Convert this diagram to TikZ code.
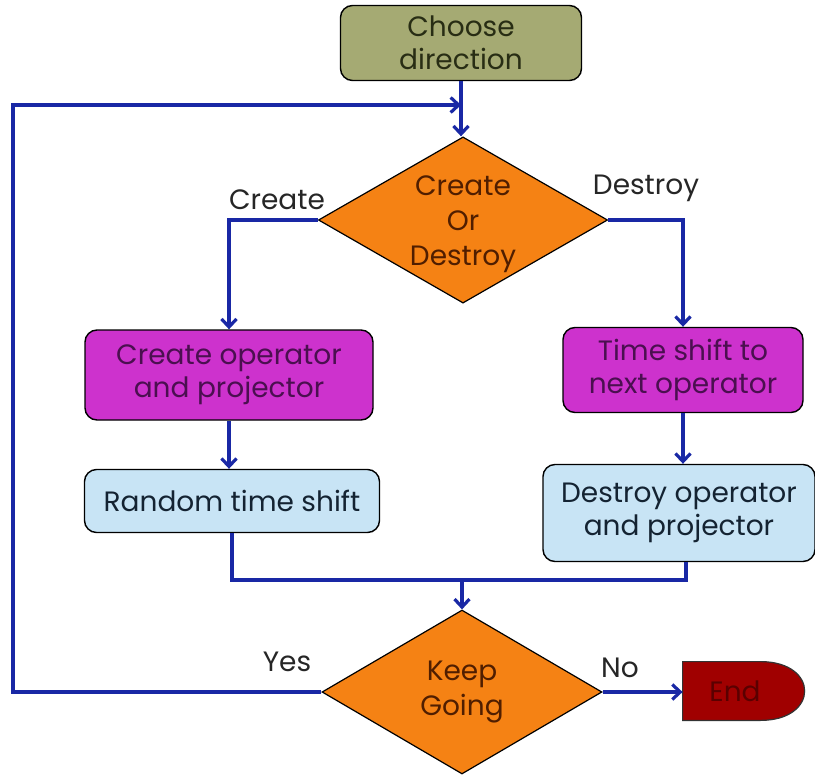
\documentclass[tikz,border=0pt]{standalone}
\usepackage{fontspec}
\setmainfont{Poppins}
\usetikzlibrary{positioning, backgrounds, shapes, arrows.meta}
\definecolor{olivefill}{RGB}{165,170,115}
\definecolor{olivetext}{RGB}{40,45,20}
\definecolor{orangefill}{RGB}{245,130,20}
\definecolor{orangetext}{RGB}{80,30,0}
\definecolor{magentafill}{RGB}{205,50,205}
\definecolor{magentatext}{RGB}{75,15,80}
\definecolor{bluefill}{RGB}{200,228,245}
\definecolor{bluetext}{RGB}{20,35,50}
\definecolor{endfill}{RGB}{160,0,0}
\definecolor{endtext}{RGB}{90,0,0}
\definecolor{flowblue}{RGB}{25,40,165}
\tikzset{%
  box/.style      = {draw, line width = 0.7pt, rounded corners = 6pt, rectangle, inner sep = 0pt,
    align = center, font = \fontsize{14}{16.5}\selectfont},
  decision/.style = {draw, line width = 0.6pt, diamond, inner sep = 0pt, aspect = 1.74,
    align = center, fill = orangefill, text = orangetext,
    font = \fontsize{14}{17.5}\selectfont}, % Question
  branch/.style   = {font = \fontsize{14}{16.5}\selectfont, text = black!85},
  flow/.style     = {draw = flowblue, line width = 1.6pt, -{Straight Barb[length=4pt, width=7.5pt]}},
  link/.style     = {draw = flowblue, line width = 1.6pt}
}
\newcommand{\toppad}{\rule{0pt}{14pt}}

\begin{document}
\begin{tikzpicture}[x = 0.5pt, y = -0.5pt]
\useasboundingbox (0,0) rectangle (815,777);
% blocks
\draw
	(461,43) node [box, fill = olivefill, text = olivetext, minimum width = 120.5pt, minimum height = 37.5pt] (choose) {Choose\\direction}
	(463,220) node [decision, minimum width = 141pt, minimum height = 81pt] (cod) {\toppad Create\\Or\\Destroy}
	(229,375) node [box, fill = magentafill, text = magentatext, minimum width = 144pt, minimum height = 45pt] (cop) {Create operator\\and projector}
	(683,370) node [box, fill = magentafill, text = magentatext, minimum width = 120pt, minimum height = 42.5pt] (tsn) {Time shift to\\next operator}
	(232,501) node [box, fill = bluefill, text = bluetext, minimum width = 147.5pt, minimum height = 31.5pt] (rts) {Random time shift}
	(679,513) node [box, fill = bluefill, text = bluetext, minimum width = 136pt, minimum height = 48.5pt] (dop) {Destroy operator\\and projector}
	(462,692) node [decision, minimum width = 140pt, minimum height = 82pt] (kg) {Keep\\Going}
	(735,691) node [font = \fontsize{14}{16.5}\selectfont, text = endtext, minimum width = 52pt, minimum height = 29pt, inner sep = 0pt] (end) {End};
% end terminal
\begin{scope}[on background layer]
\filldraw[fill = endfill, draw = black!80, line width = 0.6pt] (end.north west) -- ([xshift = -13.5pt]end.north east)
	.. controls ([xshift = 16pt]end.north east) and ([xshift = 16pt]end.south east) .. ([xshift = -13.5pt]end.south east)
	-- (end.south west) -- cycle;
\end{scope}
% junctions
\coordinate (loop) at (461,105);
\coordinate (ret) at (13,105);
\coordinate (merge) at (462,580);
% flow lines
\draw[flow] (choose) -- (choose |- cod.north);
\draw[flow] (cod.west) -| (cop.north);
\draw[flow] (cod.east) -| (tsn.north);
\draw[flow] (cop) -- (cop |- rts.north);
\draw[flow] (tsn) -- (tsn |- dop.north);
\draw[link] (rts.south) |- (merge);
\draw[link] ([xshift = 3.5pt]dop.south) |- (merge);
\draw[flow] (merge) -- (kg.north);
\draw[flow] (kg.east) -- (kg.east -| end.west);
\draw[flow] (kg.west) -| (ret) -- (loop);
% branch labels
\node[branch] (lcreate) at (277,200) {Create};
\node[branch] (ldestroy) at (646,188) {Destroy};
\node[branch] (lyes) at (287,662) {Yes};
\node[branch] (lno) at (620,668) {No};
\end{tikzpicture}
\end{document}
